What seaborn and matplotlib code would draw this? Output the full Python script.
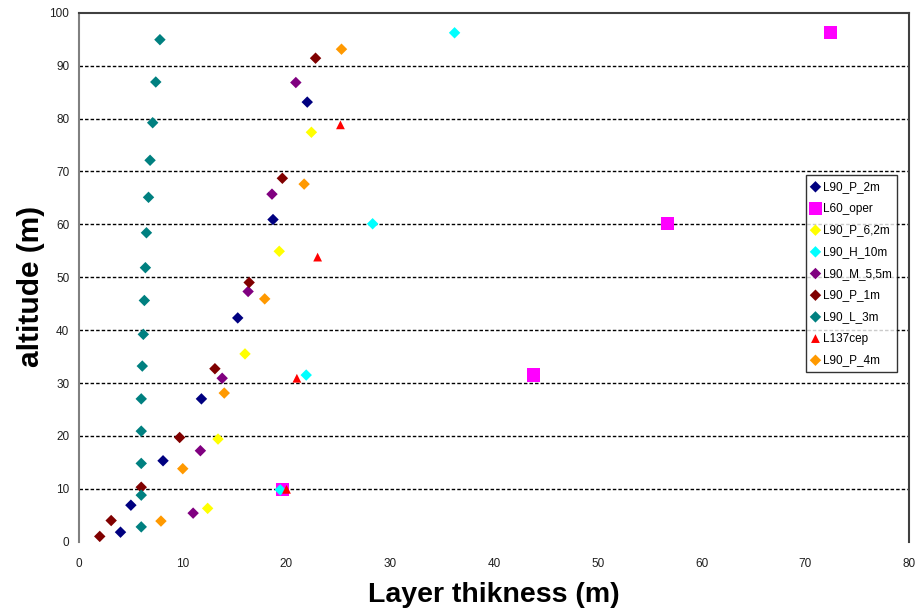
import matplotlib
matplotlib.use('Agg')
import matplotlib.pyplot as plt
import seaborn as sns
import pandas as pd

#----------------------------------------------------
# series: (thickness, altitude)
names=['L90_P_2m', 'L60_oper', 'L90_P_6,2m', 'L90_H_10m', 'L90_M_5,5m',
       'L90_P_1m', 'L90_L_3m', 'L137cep', 'L90_P_4m']
colors=['#000080', '#ff00ff', '#ffff00', '#00ffff', '#800080',
        '#800000', '#008080', '#ff0000', '#ff9900']
markers=['D', 's', 'D', 'D', 'D', 'D', 'D', '^', 'D']

p2m_x=[4.0, 5.0, 8.1, 11.8, 15.3, 18.7, 22.0]
p2m_y=[1.8, 6.9, 15.3, 27.0, 42.3, 60.9, 83.1]
oper_x=[19.6, 43.8, 56.7, 72.4]
oper_y=[9.8, 31.5, 60.1, 96.2]
p62_x=[12.4, 13.4, 16.0, 19.3, 22.4]
p62_y=[6.3, 19.4, 35.5, 54.9, 77.4]
h10_x=[19.4, 21.9, 28.3, 36.2]
h10_y=[9.8, 31.5, 60.1, 96.2]
m55_x=[11.0, 11.7, 13.8, 16.3, 18.6, 20.9]
m55_y=[5.4, 17.2, 30.9, 47.3, 65.7, 86.8]
p1m_x=[2.0, 3.1, 6.0, 9.7, 13.1, 16.4, 19.6, 22.8]
p1m_y=[1.0, 4.0, 10.3, 19.7, 32.7, 49.0, 68.7, 91.4]
l3m_x=[6.0, 6.0, 6.0, 6.0, 6.0, 6.1, 6.2, 6.3, 6.4, 6.5, 6.7, 6.85, 7.1, 7.4, 7.8]
l3m_y=[2.8, 8.8, 14.8, 20.9, 27.0, 33.2, 39.2, 45.6, 51.8, 58.4, 65.1, 72.1, 79.2, 86.9, 94.9]
cep_x=[20.0, 21.0, 23.0, 25.2]
cep_y=[9.9, 30.9, 53.8, 78.8]
p4m_x=[7.9, 10.0, 14.0, 17.9, 21.7, 25.3]
p4m_y=[3.9, 13.8, 28.1, 45.9, 67.6, 93.1]

xs=[p2m_x, oper_x, p62_x, h10_x, m55_x, p1m_x, l3m_x, cep_x, p4m_x]
ys=[p2m_y, oper_y, p62_y, h10_y, m55_y, p1m_y, l3m_y, cep_y, p4m_y]
sizes={'D': 34, 's': 90, '^': 40}

#----------------------------------------------------
sns.set_style('white')
plt.rcParams['font.family']=['Liberation Sans', 'DejaVu Sans']
plt.rcParams['text.color']='black'

fig=plt.figure(figsize=(9.16, 6.10), dpi=100)
W, H=916, 610
ax=fig.add_axes([79/W, 1-541.7/H, (909-79)/W, (541.7-12.7)/H])

for nm, c, m, x, y in zip(names, colors, markers, xs, ys):
	df=pd.DataFrame({'x': x, 'y': y})
	sns.scatterplot(data=df, x='x', y='y', ax=ax, color=c, marker=m,
	                s=sizes[m], edgecolor='none', linewidth=0, label=nm, zorder=3)

#adjust
ax.set_xlim(0, 80)
ax.set_ylim(0, 100)
ax.set_xticks(range(0, 81, 10))
ax.set_yticks(range(0, 101, 10))
for v in range(10, 100, 10):
	ax.axhline(v, color='black', lw=1, ls=(0, (2.5, 1.5)), zorder=1)
ax.spines['bottom'].set_visible(False)
ax.spines['left'].set_color('#808080')
ax.spines['top'].set_color('#404040')
ax.spines['right'].set_color('#404040')
for s in ['left', 'top', 'right']:
	ax.spines[s].set_linewidth(1.5)
ax.tick_params(axis='both', direction='out', length=4, width=1, color='#404040',
               labelsize=8.5, labelcolor='#202020', pad=3)
ax.tick_params(axis='x', pad=8)
ax.set_xlabel('Layer thikness (m)', fontsize=20.5, weight='bold', color='black')
ax.set_ylabel('altitude (m)', fontsize=21.5, weight='bold', color='black')
ax.xaxis.set_label_coords(0.5, -0.076)
ax.yaxis.set_label_coords(-0.041, 0.483)

leg=ax.legend(loc='upper left', bbox_to_anchor=(806/W, 1-175/H), bbox_transform=fig.transFigure,
              frameon=True, fancybox=False, fontsize=8.5, labelspacing=0.82,
              handlelength=0.6, handletextpad=0.3, borderpad=0.5, borderaxespad=0)
leg.get_frame().set_edgecolor('black')
leg.get_frame().set_linewidth(1)
for t in leg.get_texts():
	t.set_color('black')

#save
fig.savefig('out.png', dpi=100)
plt.close()
